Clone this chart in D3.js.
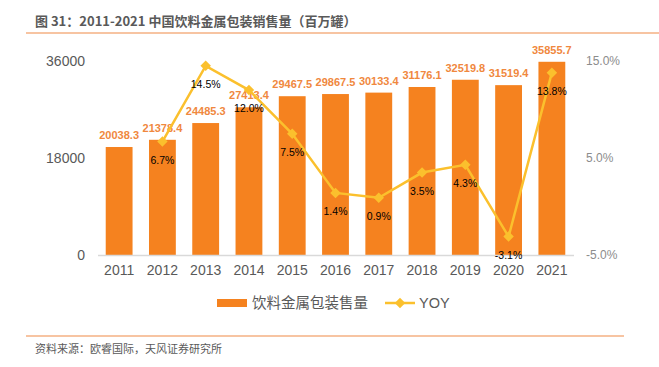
<!DOCTYPE html>
<html><head><meta charset="utf-8">
<script src="https://cdn.jsdelivr.net/npm/d3@7"></script>
<style>
body{margin:0;background:#fff;}
svg{display:block;font-family:"Liberation Sans",Arial,"Noto Sans CJK SC",sans-serif;}
</style></head>
<body><svg id="c" width="659" height="367"></svg>
<script>
const years = ["2011","2012","2013","2014","2015","2016","2017","2018","2019","2020","2021"];
const sales = [20038.3,21378.4,24485.3,27413.4,29467.5,29867.5,30133.4,31176.1,32519.8,31519.4,35855.7];
const yoy = [null,6.7,14.5,12.0,7.5,1.4,0.9,3.5,4.3,-3.1,13.8];
const leftTicks = [0,18000,36000];
const rightTicks = [-5,5,15];
const title = "图 31：2011-2021 中国饮料金属包装销售量（百万罐）";
const source = "资料来源：欧睿国际，天风证券研究所";
const seriesNames = ["饮料金属包装售量","YOY"];

const svg = d3.select("#c");
const barColor = "#F5821F", lineColor = "#FBC02D", labelOrange = "#F0883E";
const cjk = '"Noto Sans CJK SC","Liberation Sans",sans-serif';

// title
svg.append("text").attr("x",35).attr("y",26).attr("font-family",cjk).attr("font-weight","bold")
  .attr("font-size",13).attr("fill","#595959").text(title);
svg.append("line").attr("x1",26).attr("x2",659).attr("y1",33).attr("y2",33)
  .attr("stroke","#F4B183").attr("stroke-width",1.5);

const x = d3.scaleBand().domain(years).range([97.5,573.5]).paddingInner(0.38).paddingOuter(0.19);
const y = d3.scaleLinear().domain([0,36000]).range([255,61]);
const y2 = d3.scaleLinear().domain([-5,15]).range([255,61]);

// bars
svg.selectAll("rect.bar").data(sales).join("rect").attr("class","bar")
  .attr("x",(d,i)=>x(years[i])).attr("width",x.bandwidth())
  .attr("y",d=>y(d)).attr("height",d=>y(0)-y(d)).attr("fill",barColor);

// baseline axis
const gx = svg.append("g").attr("transform","translate(0,255)")
  .call(d3.axisBottom(x).tickSize(0).tickPadding(10));
gx.select(".domain").attr("stroke","#d9d9d9").attr("stroke-width",1.5);
gx.selectAll("text").attr("font-size",14).attr("fill","#595959").attr("font-family",'"Liberation Sans",Arial,sans-serif');

const gl = svg.append("g").attr("transform","translate(97,0)")
  .call(d3.axisLeft(y).tickValues(leftTicks).tickSize(0).tickPadding(12).tickFormat(d3.format("d")));
gl.select(".domain").remove();
gl.selectAll("text").attr("font-size",14).attr("fill","#595959").attr("font-family",'"Liberation Sans",Arial,sans-serif');

const gr = svg.append("g").attr("transform","translate(574,0)")
  .call(d3.axisRight(y2).tickValues(rightTicks).tickSize(0).tickPadding(12).tickFormat(d=>d.toFixed(1)+"%"));
gr.select(".domain").remove();
gr.selectAll("text").attr("font-size",12).attr("fill","#8c8c8c").attr("font-family",'"Liberation Sans",Arial,sans-serif');

// bar labels
svg.selectAll("text.bl").data(sales).join("text").attr("class","bl")
  .attr("x",(d,i)=>x(years[i])+x.bandwidth()/2).attr("y",d=>y(d)-8)
  .attr("text-anchor","middle").attr("font-size",11).attr("font-weight","bold")
  .attr("fill",labelOrange).text(d=>d.toFixed(1));

// line
const pts = yoy.map((v,i)=>({v,i})).filter(d=>d.v!==null);
const cx = d=>x(years[d.i])+x.bandwidth()/2;
svg.append("path").datum(pts)
  .attr("d",d3.line().x(cx).y(d=>y2(d.v)))
  .attr("fill","none").attr("stroke",lineColor).attr("stroke-width",2.5);
const diamond = d3.symbol().type(d3.symbolDiamond2).size(70);
svg.selectAll("path.pt").data(pts).join("path").attr("class","pt")
  .attr("d",diamond).attr("transform",d=>`translate(${cx(d)},${y2(d.v)})`).attr("fill",lineColor);

svg.selectAll("text.yl").data(pts).join("text").attr("class","yl")
  .attr("x",cx).attr("y",d=>y2(d.v)+22)
  .attr("text-anchor","middle").attr("font-size",10.5).attr("fill","#000")
  .text(d=>d.v.toFixed(1)+"%");

// legend
const lg = svg.append("g");
lg.append("rect").attr("x",217).attr("y",299).attr("width",30).attr("height",8).attr("fill",barColor);
lg.append("text").attr("x",252).attr("y",308).attr("font-family",cjk).attr("font-size",14.5)
  .attr("fill","#595959").text(seriesNames[0]);
lg.append("line").attr("x1",385).attr("x2",415).attr("y1",303).attr("y2",303)
  .attr("stroke",lineColor).attr("stroke-width",2.5);
lg.append("path").attr("d",diamond).attr("transform","translate(400,303)").attr("fill",lineColor);
lg.append("text").attr("x",419).attr("y",308).attr("font-size",14.5)
  .attr("fill","#595959").text(seriesNames[1]);

// footer
svg.append("line").attr("x1",26).attr("x2",624).attr("y1",336).attr("y2",336)
  .attr("stroke","#F4B183").attr("stroke-width",1.5);
svg.append("text").attr("x",35).attr("y",353).attr("font-family",cjk).attr("font-size",11)
  .attr("fill","#595959").text(source);
</script></body></html>
